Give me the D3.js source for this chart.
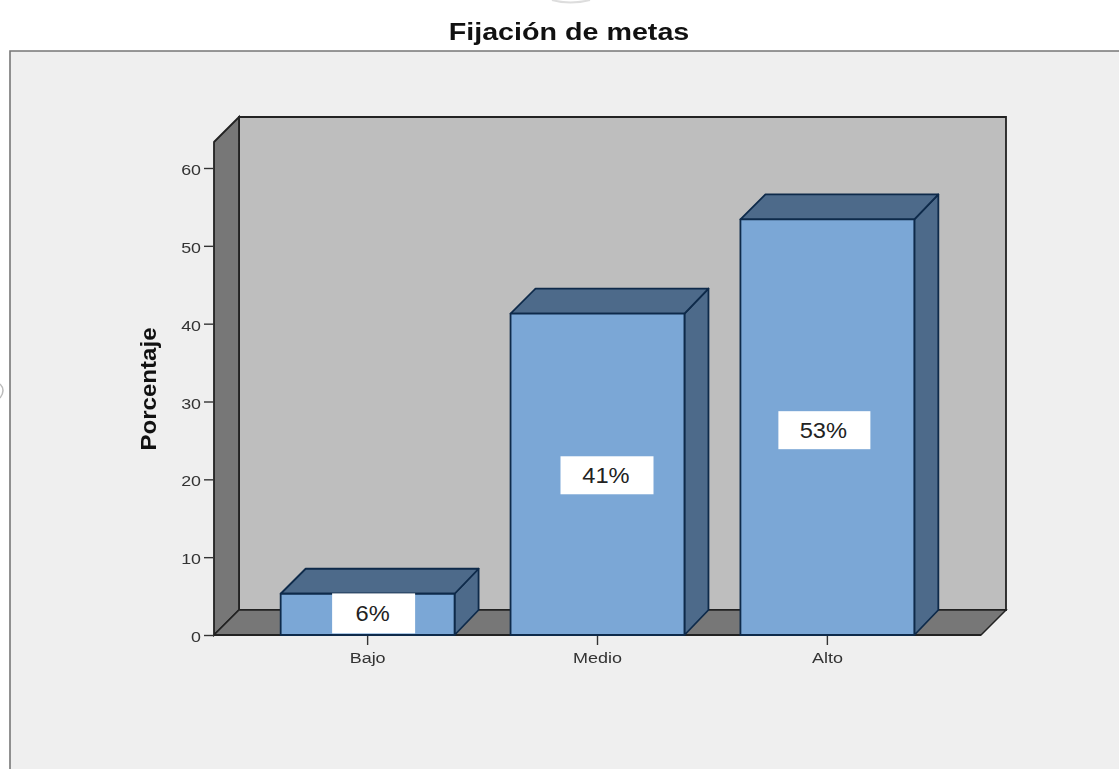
<!DOCTYPE html>
<html><head><meta charset="utf-8">
<script src="https://cdn.jsdelivr.net/npm/d3@7/dist/d3.min.js"></script>
<style>
html,body{margin:0;padding:0;background:#fff;overflow:hidden}
svg{display:block;filter:blur(0.5px)}
text{font-family:"Liberation Sans",Arial,sans-serif}
</style></head><body>
<svg id="c" width="1119" height="769"></svg>
<script>
const chartTitle = "Fijación de metas";
const yAxisTitle = "Porcentaje";
const categories = ["Bajo", "Medio", "Alto"];
const percentages = [5.3, 41.3, 53.4];
const percentLabels = ["6%", "41%", "53%"];
const yTicks = [0, 10, 20, 30, 40, 50, 60];

const W = 1119, H = 769;
const floorY = 635, floorL = 214, floorR = 981, depth = 25, wallTopY = 117;
const C = {frame:"#efefef", frameLine:"#777", wall:"#bebebe", side:"#777777", line:"#222",
  barFront:"#7ba7d6", barDark:"#4d6a8a", barLine:"#0e2a4a", axis:"#333"};

const svg = d3.select("#c");
const x = d3.scaleBand().domain(categories).range([floorL, floorR]).paddingInner(0.2435).paddingOuter(0.29);
const y = d3.scaleLinear().domain([0, 60]).range([floorY, 168]);
const pt = p => p.map(a => a.join(",")).join(" ");
// the reference's lettering is stretched along its baseline
const stretch = k => function(){ const t=this; t.setAttribute("textLength", t.getComputedTextLength()*k); t.setAttribute("lengthAdjust","spacingAndGlyphs"); };

// stray screenshot marks
svg.append("path").attr("d","M0,384 Q6,390 0,398").attr("fill","none").attr("stroke","#bbb").attr("stroke-width",1.5);
svg.append("path").attr("d","M552,0 Q570,5 590,0").attr("fill","none").attr("stroke","#ddd").attr("stroke-width",2);

// frame: open on the right and bottom edges
svg.append("rect").attr("x",10).attr("y",51).attr("width",W-10).attr("height",H-51).attr("fill",C.frame);
svg.append("path").attr("d",`M10,${H} V51 H${W}`).attr("fill","none").attr("stroke",C.frameLine).attr("stroke-width",1.6);

// title
svg.append("text").attr("x",569).attr("y",40).attr("text-anchor","middle")
  .attr("font-size",23.5).attr("font-weight",700).attr("fill","#111").text(chartTitle).each(stretch(1.22));

// 3D box: back wall, left wall, floor
const g = svg.append("g");
g.append("polygon").attr("points",pt([[floorL+depth,wallTopY],[floorR+depth,wallTopY],[floorR+depth,floorY-depth],[floorL+depth,floorY-depth]]))
  .attr("fill",C.wall).attr("stroke",C.line).attr("stroke-width",1.8);
g.append("polygon").attr("points",pt([[floorL,wallTopY+depth],[floorL+depth,wallTopY],[floorL+depth,floorY-depth],[floorL,floorY]]))
  .attr("fill",C.side).attr("stroke",C.line).attr("stroke-width",1.8);
g.append("polygon").attr("points",pt([[floorL,floorY],[floorL+depth,floorY-depth],[floorR+depth,floorY-depth],[floorR,floorY]]))
  .attr("fill",C.side).attr("stroke",C.line).attr("stroke-width",1.5);

// axes
const yAxis = d3.axisLeft(y).tickValues(yTicks).tickSize(10).tickPadding(3).tickFormat(d3.format("d"));
const yG = svg.append("g").attr("transform",`translate(${floorL},0)`).call(yAxis);
const xAxis = d3.axisBottom(x).tickSize(10).tickPadding(6.5);
const xG = svg.append("g").attr("transform",`translate(0,${floorY})`).call(xAxis);
[yG,xG].forEach(a=>{
  a.select(".domain").remove();
  a.selectAll(".tick line").attr("stroke",C.axis).attr("stroke-width",1.4);
  a.selectAll("text").attr("fill","#333").attr("font-size",15.5).style("font-family",'"Liberation Sans",Arial,sans-serif');
});
yG.selectAll("text").attr("dy","6.5px").each(stretch(1.15));
xG.selectAll("text").each(stretch(1.16));
svg.append("line").attr("x1",floorL).attr("x2",floorR).attr("y1",floorY).attr("y2",floorY).attr("stroke",C.line).attr("stroke-width",2);

svg.append("text").attr("transform","translate(156,389) rotate(-90)").attr("text-anchor","middle")
  .attr("font-size",21.5).attr("font-weight",700).attr("fill","#111").text(yAxisTitle).each(stretch(1.12));

// bars
const rows = categories.map((c,i)=>({c, v:percentages[i], label:percentLabels[i], i}));
const bars = svg.append("g").selectAll("g").data(rows).join("g");
const bw = x.bandwidth();
const barAttrs = s => s.attr("stroke",C.barLine).attr("stroke-width",1.8).attr("stroke-linejoin","round");
bars.append("polygon").attr("points",d=>{const l=x(d.c),r=l+bw,t=y(d.v);
    return pt([[r,t],[r+depth-1,t-depth],[r+depth-1,floorY-depth],[r,floorY]]);})
  .attr("fill",C.barDark).call(barAttrs);
bars.append("polygon").attr("points",d=>{const l=x(d.c),r=l+bw,t=y(d.v);
    return pt([[l,t],[l+depth,t-depth],[r+depth-1,t-depth],[r,t]]);})
  .attr("fill",C.barDark).call(barAttrs);
bars.append("rect").attr("x",d=>x(d.c)).attr("y",d=>y(d.v)).attr("width",bw).attr("height",d=>floorY-y(d.v))
  .attr("fill",C.barFront).call(barAttrs);

// value labels: white boxes, placed relative to the bar (layout only)
const boxLayout = [{dx:6,w:83,h:40,dy:-1},{dx:9.5,w:93,h:38,dy:1},{dx:-3,w:92,h:38,dy:3}];
bars.append("rect")
  .attr("x",d=>x(d.c)+bw/2+boxLayout[d.i].dx-boxLayout[d.i].w/2)
  .attr("y",d=>(y(d.v)+floorY)/2+boxLayout[d.i].dy-boxLayout[d.i].h/2)
  .attr("width",d=>boxLayout[d.i].w).attr("height",d=>boxLayout[d.i].h).attr("fill","#fff");
bars.append("text")
  .attr("x",d=>x(d.c)+bw/2+boxLayout[d.i].dx-1)
  .attr("y",d=>(y(d.v)+floorY)/2+boxLayout[d.i].dy+8)
  .attr("text-anchor","middle").attr("font-size",21.5).attr("fill","#222").text(d=>d.label).each(stretch(1.1));
</script></body></html>
